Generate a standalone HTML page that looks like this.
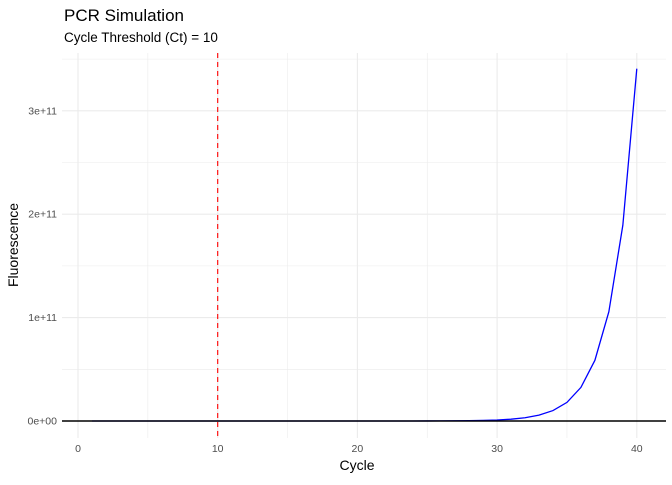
<!DOCTYPE html>
<html><head><meta charset="utf-8"><style>
body{margin:0;background:#fff;}
svg text{font-family:"Liberation Sans",sans-serif;}
</style></head><body>
<svg id="chart" width="672" height="480" xmlns="http://www.w3.org/2000/svg">
<text x="64" y="21" font-size="17" fill="#000">PCR Simulation</text>
<text x="64" y="42" font-size="13.5" fill="#000">Cycle Threshold (Ct) = 10</text>
<g id="grid"></g><g id="marks"></g><g id="axes"></g>
<text x="357" y="470" font-size="14" text-anchor="middle">Cycle</text>
<text transform="translate(18,245) rotate(-90)" font-size="14" text-anchor="middle">Fluorescence</text>
</svg>
<script>
const cycles=[1,2,3,4,5,6,7,8,9,10,11,12,13,14,15,16,17,18,19,20,21,22,23,24,25,26,27,28,29,30,31,32,33,34,35,36,37,38,39,40];
const fluorescence=[1e3,2e3,4e3,7e3,1.3e4,2.4e4,4.3e4,7.8e4,1.4e5,2.5e5,4.5e5,8.1e5,1.5e6,2.6e6,4.7e6,8.5e6,1.5e7,2.8e7,5e7,9e7,1.6e8,2.9e8,5.2e8,9.4e8,1.7e9,3.0e9,5.4e9,9.7e9,1.75e10,3.1e10,5.6e10,1.0e11,1.8e11,3.2e11,5.7e11,1.03e12,1.86e12,3.35e12,6.0e12,1.08e13].map(v=>v/31.7);
const threshold=[10];
const xTicks=[0,10,20,30,40];
const yTicks=[0,1e11,2e11,3e11];
const yTickLabels=["0e+00","1e+11","2e+11","3e+11"];
const NS="http://www.w3.org/2000/svg";
const L=62,R=666,T=53,B=438;
const x=v=>78+v*13.97;
const y=v=>421-v/1e11*103.4;
function mk(tag,attrs,parent){const e=document.createElementNS(NS,tag);for(const k in attrs)e.setAttribute(k,attrs[k]);document.getElementById(parent).appendChild(e);return e;}
for(let v=0;v<=40;v+=5){const major=v%10===0;const g=mk('line',{x1:x(v),x2:x(v),y1:T,y2:B,stroke:'#ebebeb','stroke-width':major?1.1:0.55},'grid');

}
for(let v=0;v<=3.5e11;v+=0.5e11){const major=Math.round(v/0.5e11)%2===0;const g=mk('line',{x1:L,x2:R,y1:y(v),y2:y(v),stroke:'#ebebeb','stroke-width':major?1.1:0.55},'grid');

}
const p=mk('polyline',{points:cycles.map((c,i)=>x(c)+','+y(fluorescence[i])).join(' '),fill:'none',stroke:'#0000ff','stroke-width':1.3},'marks');


const h=mk('line',{x1:L,x2:R,y1:y(0),y2:y(0),stroke:'#000','stroke-width':1.4},'marks');


threshold.forEach(t=>{const d=mk('line',{x1:x(t),x2:x(t),y1:T,y2:B,stroke:'#ff0000','stroke-width':1.1,'stroke-dasharray':'5,4'},'marks');

});
xTicks.forEach(v=>{const t=mk('text',{x:x(v),y:452,'font-size':10.5,fill:'#4d4d4d','text-anchor':'middle'},'axes');t.textContent=v;

});
yTicks.forEach((v,i)=>{const t=mk('text',{x:57,y:y(v)+3.5,'font-size':10.5,fill:'#4d4d4d','text-anchor':'end'},'axes');t.textContent=yTickLabels[i];

});
</script>
</body></html>
